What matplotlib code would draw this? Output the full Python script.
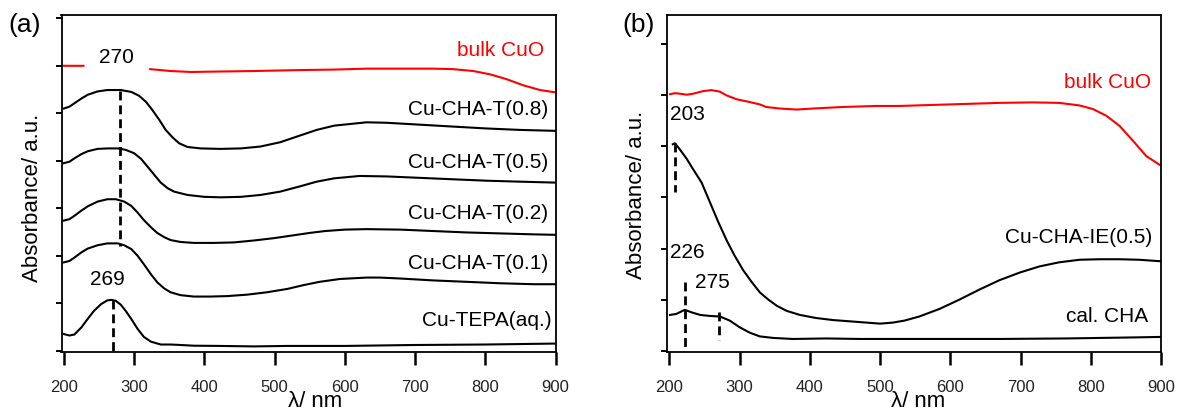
import matplotlib
matplotlib.use("Agg")
import matplotlib.pyplot as plt
import numpy as np

plt.rcParams['font.family'] = ['Liberation Sans', 'DejaVu Sans']

# ---------------- Panel (a) data (offset absorbance, a.u.) ----------------
a_tepa_x = [200, 208, 215, 225, 234, 243, 253, 262, 268, 274, 281, 288, 296, 305, 314, 324, 338, 352, 366, 385, 423, 470, 518, 600, 700, 800, 850, 900]
a_tepa_y = [0.35, 0.32, 0.34, 0.49, 0.67, 0.84, 0.98, 1.06, 1.07, 1.05, 0.97, 0.84, 0.67, 0.46, 0.29, 0.19, 0.13, 0.13, 0.12, 0.105, 0.10, 0.09, 0.10, 0.10, 0.12, 0.13, 0.14, 0.15]

a_t01_x = [200, 208, 215, 225, 234, 248, 262, 277, 286, 296, 305, 314, 324, 333, 343, 352, 366, 385, 409, 433, 461, 489, 518, 541, 564, 593, 631, 650, 679, 726, 774, 821, 869, 900]
a_t01_y = [1.86, 1.89, 1.96, 2.07, 2.15, 2.22, 2.26, 2.26, 2.22, 2.14, 2.00, 1.82, 1.61, 1.44, 1.31, 1.23, 1.17, 1.14, 1.14, 1.15, 1.18, 1.23, 1.30, 1.38, 1.45, 1.51, 1.54, 1.54, 1.52, 1.48, 1.45, 1.42, 1.40, 1.40]

a_t02_x = [200, 208, 215, 225, 234, 248, 262, 274, 286, 296, 305, 314, 324, 333, 343, 352, 366, 385, 414, 442, 470, 499, 527, 550, 572, 600, 631, 679, 726, 774, 821, 869, 900]
a_t02_y = [2.74, 2.77, 2.84, 2.95, 3.04, 3.14, 3.19, 3.19, 3.14, 3.05, 2.91, 2.75, 2.60, 2.48, 2.39, 2.33, 2.29, 2.27, 2.27, 2.28, 2.32, 2.37, 2.43, 2.48, 2.52, 2.55, 2.56, 2.55, 2.52, 2.49, 2.47, 2.45, 2.44]

a_t05_x = [200, 208, 215, 225, 234, 248, 262, 277, 288, 300, 310, 319, 329, 338, 348, 357, 376, 400, 423, 452, 480, 508, 536, 560, 585, 621, 660, 707, 754, 802, 849, 900]
a_t05_y = [3.95, 3.98, 4.05, 4.14, 4.20, 4.25, 4.26, 4.26, 4.23, 4.16, 4.04, 3.88, 3.70, 3.54, 3.42, 3.35, 3.28, 3.24, 3.23, 3.24, 3.28, 3.35, 3.46, 3.56, 3.63, 3.68, 3.67, 3.64, 3.61, 3.58, 3.56, 3.54]

a_t08_x = [200, 208, 215, 225, 234, 248, 262, 281, 296, 307, 317, 326, 336, 345, 355, 364, 376, 395, 423, 452, 480, 508, 536, 560, 585, 631, 660, 707, 754, 802, 849, 900]
a_t08_y = [5.10, 5.14, 5.21, 5.31, 5.39, 5.46, 5.49, 5.49, 5.45, 5.37, 5.24, 5.07, 4.86, 4.65, 4.49, 4.37, 4.29, 4.26, 4.25, 4.26, 4.30, 4.39, 4.53, 4.65, 4.74, 4.81, 4.80, 4.76, 4.72, 4.68, 4.65, 4.63]

a_cuo_x = [200, 214, 228, 229, 322, 323, 352, 381, 423, 470, 536, 583, 631, 679, 726, 754, 783, 807, 830, 854, 878, 900]
a_cuo_y = [6.00, 6.00, 6.00, np.nan, np.nan, 5.93, 5.89, 5.87, 5.88, 5.89, 5.91, 5.92, 5.94, 5.94, 5.94, 5.93, 5.89, 5.82, 5.72, 5.59, 5.49, 5.44]

a_labels = ["bulk CuO", "Cu-CHA-T(0.8)", "Cu-CHA-T(0.5)", "Cu-CHA-T(0.2)", "Cu-CHA-T(0.1)", "Cu-TEPA(aq.)"]
a_label_x = [884, 889, 889, 889, 889, 895]
a_label_y = [6.35, 5.10, 3.98, 2.90, 1.86, 0.65]

# peak markers (a)
a_peak_x = [280, 269.5]
a_peak_top = [5.47, 1.07]
a_peak_bot = [2.21, -0.07]
a_peak_text = ["270", "269"]
a_peak_tx = [275, 262]
a_peak_ty = [6.20, 1.51]

# ---------------- Panel (b) data ----------------
b_cuo_x = [201, 208, 215, 225, 234, 248, 260, 272, 281, 296, 310, 329, 338, 357, 381, 405, 447, 495, 528, 575, 623, 670, 717, 755, 784, 803, 822, 841, 860, 879, 900]
b_cuo_y = [5.02, 5.04, 5.03, 5.01, 5.03, 5.08, 5.10, 5.07, 5.00, 4.92, 4.88, 4.82, 4.77, 4.74, 4.72, 4.74, 4.77, 4.79, 4.79, 4.81, 4.83, 4.85, 4.86, 4.85, 4.80, 4.73, 4.60, 4.40, 4.11, 3.81, 3.62]

b_ie_x = [205, 208, 215, 225, 234, 246, 258, 270, 282, 293, 305, 317, 329, 341, 353, 367, 386, 409, 433, 462, 481, 500, 518, 535, 556, 585, 613, 642, 670, 699, 727, 755, 784, 812, 841, 869, 900]
b_ie_y = [4.04, 4.06, 3.94, 3.75, 3.55, 3.29, 2.90, 2.51, 2.15, 1.86, 1.58, 1.35, 1.14, 1.00, 0.88, 0.78, 0.70, 0.64, 0.60, 0.57, 0.55, 0.53, 0.55, 0.59, 0.67, 0.82, 1.00, 1.20, 1.38, 1.53, 1.65, 1.73, 1.78, 1.79, 1.79, 1.78, 1.75]

b_cha_x = [201, 210, 222, 232, 244, 258, 272, 286, 300, 315, 329, 348, 376, 424, 471, 542, 670, 765, 860, 900]
b_cha_y = [0.70, 0.72, 0.80, 0.75, 0.70, 0.68, 0.67, 0.59, 0.46, 0.35, 0.28, 0.25, 0.23, 0.24, 0.23, 0.23, 0.23, 0.24, 0.26, 0.27]

b_labels = ["bulk CuO", "Cu-CHA-IE(0.5)", "cal. CHA"]
b_label_x = [886, 887, 882]
b_label_y = [5.26, 2.23, 0.68]

b_peak_x = [208, 222.3, 270.6]
b_peak_top = [4.07, 1.35, 0.76]
b_peak_bot = [3.11, 0.07, 0.20]
b_peak_text = ["203", "226", "275"]
b_peak_tx = [225.6, 225, 261]
b_peak_ty = [4.65, 1.94, 1.35]

xticks = [200, 300, 400, 500, 600, 700, 800, 900]

W, H = 1178, 414
fig = plt.figure(figsize=(W / 100, H / 100), dpi=100)
ax1 = fig.add_axes([61.5 / W, 1 - 353.3 / H, (556 - 61.5) / W, (353.3 - 16) / H])
ax2 = fig.add_axes([666.7 / W, 1 - 353.3 / H, (1161 - 666.7) / W, (353.3 - 16) / H])

red = '#ff0000'
lw = 1.5
fs = 15
dash = dict(color='black', lw=2.0, linestyle=(0, (3.2, 1.8)))

# panel a
for xs, ys in ((a_tepa_x, a_tepa_y), (a_t01_x, a_t01_y), (a_t02_x, a_t02_y),
               (a_t05_x, a_t05_y), (a_t08_x, a_t08_y)):
    ax1.plot(xs, ys, color='black', lw=lw, solid_joinstyle='round')
ax1.plot(a_cuo_x, a_cuo_y, color=red, lw=lw)
for px, pt, pb, t, tx, ty in zip(a_peak_x, a_peak_top, a_peak_bot, a_peak_text, a_peak_tx, a_peak_ty):
    ax1.plot([px, px], [pt, pb], **dash)
    ax1.text(tx, ty, t, ha='center', va='center', fontsize=fs)
for i, (lab, lx, ly) in enumerate(zip(a_labels, a_label_x, a_label_y)):
    ax1.text(lx, ly, lab, ha='right', va='center', fontsize=fs,
             color=red if i == 0 else 'black')
ax1.set_xlim(196.7, 900.7)
ax1.set_ylim(-0.034, 7.07)
ax1.set_yticks(range(0, 8))

# panel b
ax2.plot(b_cuo_x, b_cuo_y, color=red, lw=lw)
ax2.plot(b_ie_x, b_ie_y, color='black', lw=lw, solid_joinstyle='round')
ax2.plot(b_cha_x, b_cha_y, color='black', lw=lw, solid_joinstyle='round')
for px, pt, pb, t, tx, ty in zip(b_peak_x, b_peak_top, b_peak_bot, b_peak_text, b_peak_tx, b_peak_ty):
    ax2.plot([px, px], [pt, pb], **dash)
    ax2.text(tx, ty, t, ha='center', va='center', fontsize=fs)
for i, (lab, lx, ly) in enumerate(zip(b_labels, b_label_x, b_label_y)):
    ax2.text(lx, ly, lab, ha='right', va='center', fontsize=fs,
             color=red if i == 0 else 'black')
ax2.set_xlim(196.3, 899.5)
ax2.set_ylim(-0.031, 6.57)
ax2.set_yticks(range(0, 7))

for ax in (ax1, ax2):
    ax.set_xticks(xticks)
    ax.set_yticklabels([])
    ax.xaxis.set_ticks_position('bottom')
    ax.tick_params(axis='x', direction='out', length=9.4, width=1.8, color='#000000',
                   pad=10, labelsize=12, labelcolor='#222222')
    ax.tick_params(axis='y', direction='out', length=4.3, width=1.4, color='#000000')
    for s in ax.spines.values():
        s.set_linewidth(1.3)

# axis titles placed at the reference positions
fig.text(315 / W, 1 - 402 / H, "λ/ nm", fontsize=16, ha='center', va='center')
fig.text(918 / W, 1 - 402 / H, "λ/ nm", fontsize=16, ha='center', va='center')
fig.text(32.5 / W, 1 - 198 / H, "Absorbance/ a.u.", fontsize=16, rotation=90,
         ha='center', va='center')
fig.text(636 / W, 1 - 195 / H, "Absorbance/ a.u.", fontsize=16, rotation=90,
         ha='center', va='center')

fig.text(8 / W, 1 - 25 / H, "(a)", fontsize=19, va='center', ha='left')
fig.text(622 / W, 1 - 25 / H, "(b)", fontsize=19, va='center', ha='left')

fig.savefig("out.png", dpi=100)
